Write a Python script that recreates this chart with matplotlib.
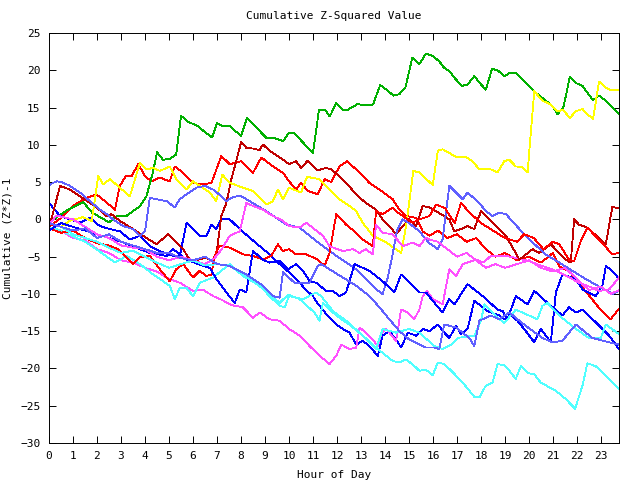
import matplotlib
matplotlib.use("Agg")
import matplotlib.pyplot as plt

# cumulative (z*z)-1 per series as (hour, value) points
green_h = [0, 0.4, 0.8, 1.43, 1.8, 2.5, 2.8, 3.2, 3.8, 4.06, 4.33, 4.5, 4.75, 5.03, 5.3, 5.5, 5.8, 6.2, 6.5, 6.8,
           7.0, 7.25, 7.53, 8.0, 8.25, 8.64, 9.05, 9.33, 9.75, 10.0, 10.2, 11.0, 11.25, 11.5, 11.7, 11.97, 12.25,
           12.45, 12.87, 13.07, 13.5, 13.8, 14.1, 14.35, 14.6, 14.85, 15.14, 15.43, 15.71, 15.99, 16.26, 16.47,
           16.68, 16.89, 17.21, 17.44, 17.72, 18.0, 18.2, 18.46, 18.69, 18.97, 19.18, 19.43, 19.73, 20.0, 20.2,
           20.63, 20.98, 21.19, 21.44, 21.7, 21.95, 22.23, 22.43, 22.67, 22.92, 23.2, 23.47, 23.75]
green_v = [-0.5, 0.5, 1.3, 2.3, 0.9, -0.4, 0.4, 0.4, 1.8, 3.1, 6.3, 9.0, 8.0, 8.1, 8.7, 13.9, 13.1, 12.5, 11.7, 11.0,
           12.9, 12.5, 12.5, 11.2, 13.6, 12.3, 10.95, 10.95, 10.5, 11.6, 11.6, 8.9, 14.7, 14.7, 13.8, 15.6, 14.7,
           14.7, 15.5, 15.3, 15.4, 18.0, 17.3, 16.6, 16.8, 17.7, 21.7, 20.8, 22.25, 21.9, 21.2, 20.3,
           19.9, 19.0, 17.9, 18.1, 19.2, 18.1, 17.4, 20.2, 20.0, 19.2, 19.6, 19.7, 18.8, 17.9, 17.2,
           16.1, 15.2, 14.1, 15.1, 19.1, 18.3, 17.9, 17.0, 16.0, 16.6, 15.9, 15.0, 14.1]

yellow_h = [0, 0.5, 0.87, 1.4, 1.78, 2.05, 2.26, 2.54, 2.95, 3.37, 3.79, 4.06, 4.34, 4.62, 5.03, 5.3, 5.73, 6.0,
            6.28, 6.7, 6.97, 7.22, 7.53, 8.08, 8.5, 9.05, 9.33, 9.54, 9.75, 10.0, 10.5, 10.75, 11.27, 11.69, 12.1,
            12.52, 12.8, 13.07, 13.49, 14.05, 14.67, 14.88, 15.18, 15.43, 15.99, 16.2, 16.4, 16.68, 16.96, 17.38,
            17.65, 17.93, 18.34, 18.69, 18.97, 19.18, 19.45, 19.73, 19.94, 20.22, 20.56, 20.91, 21.19, 21.42,
            21.7, 21.95, 22.23, 22.43, 22.67, 22.92, 23.2, 23.41, 23.75]
yellow_v = [-0.5, -1.0, -0.2, 0.3, -0.2, 5.8, 4.7, 5.4, 4.25, 3.1, 7.6, 6.7, 6.9, 6.5, 7.1, 5.4, 4.0, 5.1,
            4.5, 3.6, 2.45, 6.0, 4.9, 4.25, 3.8, 2.0, 2.45, 4.0, 2.7, 4.25, 3.6, 5.7, 5.4, 4.0, 2.7,
            1.8, 1.1, -0.45, -2.2, -3.1, -4.5, -0.9, 6.5, 6.3, 4.6, 9.2, 9.4, 8.9, 8.35, 8.35,
            7.8, 6.7, 6.8, 6.3, 7.8, 8.0, 7.1, 7.0, 6.3, 17.2, 15.9, 15.4, 14.5, 14.7,
            13.6, 14.5, 14.8, 14.1, 13.5, 18.5, 17.65, 17.3, 17.3]

darkred_h = [0, 0.46, 0.87, 1.29, 1.7, 1.98, 2.4, 2.6, 2.95, 3.5, 3.92, 4.48, 4.96, 5.17, 5.59, 5.8, 6.0, 6.56,
             6.77, 6.97, 7.18, 7.39, 7.6, 7.74, 8.01, 8.22, 8.5, 8.78, 8.91, 9.19, 9.75, 10.0, 10.3, 10.5, 10.79,
             11.0, 11.2, 11.55, 11.76, 12.1, 12.38, 12.8, 13.2, 13.63, 13.9, 14.18, 14.46, 14.74, 15.0, 15.3,
             15.57, 15.85, 16.13, 16.68, 16.89, 17.17, 17.44, 17.72, 18.0, 18.48, 19.04, 19.6, 20.15, 20.42,
             20.91, 21.53, 21.74, 21.88, 22.08, 22.43, 23.2, 23.47, 23.75]
darkred_v = [-1.2, 4.5, 4.0, 3.1, 2.2, 1.6, 0.45, 0.7, -0.2, -1.3, -2.2, -3.35, -2.0, -2.7, -4.0, -5.1, -5.6, -5.1,
             -5.6, -4.9, 0.45, 2.2, 5.4, 7.1, 10.4, 9.6, 9.5, 9.3, 10.05, 9.2, 8.0, 7.4, 7.8, 6.9, 7.9,
             7.1, 6.6, 6.9, 6.7, 5.8, 4.9, 3.35, 2.2, 1.3, 0.0, -0.9, -2.0, -0.9, 0.0, -0.9,
             1.8, 1.6, 1.1, 0.0, -1.6, -1.3, -0.9, -1.3, 1.1, -0.45, -2.2, -5.4, -4.0, -4.5,
             -3.35, -5.4, -5.8, 0.0, -0.7, -1.1, -3.35, 1.65, 1.5]

red1_h = [0, 0.5, 1.0, 1.5, 1.98, 2.33, 2.75, 2.95, 3.2, 3.44, 3.72, 4.0, 4.27, 4.62, 5.03, 5.24, 5.59, 6.0, 6.42,
          6.77, 7.18, 7.53, 8.01, 8.5, 8.85, 9.33, 9.75, 10.0, 10.3, 10.5, 10.79, 11.2, 11.48, 11.76, 12.1, 12.41,
          12.8, 13.35, 13.77, 14.32, 14.6, 14.88, 15.3, 15.57, 15.85, 16.2, 16.6, 17.0, 17.4, 17.8, 18.2, 18.6,
          19.0, 19.5, 20.0, 20.5, 21.0, 21.26, 21.7, 22.1, 22.5, 22.9, 23.4, 23.75]
red1_v = [-1.0, 0.2, 1.8, 2.8, 3.35, 2.45, 1.3, 4.5, 5.8, 5.8, 7.4, 5.8, 5.1, 5.6, 5.1, 7.1, 6.25, 4.9, 4.7,
          4.9, 8.5, 7.4, 7.8, 6.25, 8.3, 7.1, 6.25, 5.1, 4.0, 4.9, 3.8, 3.35, 5.4, 5.0, 7.1, 7.8,
          6.7, 4.9, 4.0, 2.7, 1.3, 0.45, 0.2, -1.6, -2.2, -1.5, -2.5, -2.0, -3.0, -2.5, -4.0, -5.0,
          -4.5, -5.5, -5.0, -5.8, -4.5, -6.3, -7.0, -8.7, -10.2, -11.8, -13.4, -12.0]

red2_h = [0, 0.5, 1.0, 1.5, 2.0, 2.5, 2.88, 3.5, 3.79, 4.2, 4.62, 5.03, 5.3, 5.59, 6.0, 6.28, 6.56, 6.77, 6.9, 7.1,
          7.53, 8.08, 8.5, 8.91, 9.26, 9.54, 9.75, 10.0, 10.3, 10.72, 11.2, 11.48, 11.69, 11.97, 12.38, 12.8,
          13.07, 13.49, 13.63, 13.9, 14.32, 14.46, 14.74, 15.15, 15.43, 15.85, 16.13, 16.5, 16.9, 17.17, 17.5,
          18.0, 18.5, 19.0, 19.5, 19.8, 20.2, 20.6, 21.0, 21.26, 21.67, 21.88, 22.16, 22.43, 23.0, 23.47, 23.75]
red2_v = [-1.2, -1.8, -1.5, -2.5, -3.2, -3.5, -4.0, -6.0, -5.1, -4.9, -6.7, -8.3, -6.7, -6.0, -7.8, -6.9, -7.6,
          -7.4, -4.9, -3.5, -3.8, -4.7, -4.9, -5.4, -4.9, -3.35, -4.25, -4.0, -4.7, -4.7, -5.4, -6.25, -4.5, 0.7,
          -0.7, -1.8, -2.7, -3.6, 1.1, 0.7, 1.6, 1.1, 0.45, -0.45, 0.0, 0.45, 2.0, 1.5, -0.5, 2.2, 1.0,
          -0.5, -1.5, -2.5, -3.0, -2.0, -2.5, -4.0, -3.0, -3.35, -5.4, -5.6, -2.9, -1.1, -3.0, -4.7, -4.5]

blue1_h = [0, 0.46, 0.87, 1.29, 1.7, 2.12, 2.54, 2.95, 3.37, 3.79, 4.2, 4.62, 5.17, 5.45, 5.73, 6.0, 6.28, 6.56,
           6.77, 6.97, 7.18, 7.53, 7.95, 8.36, 8.78, 9.19, 9.61, 10.0, 10.44, 10.72, 11.0, 11.13, 11.55, 11.97,
           12.24, 12.52, 12.8, 13.07, 13.35, 13.7, 13.9, 14.18, 14.46, 14.67, 14.95, 15.3, 15.57, 15.85, 16.2,
           16.47, 16.68, 16.96, 17.17, 17.44, 17.72, 18.27, 18.76, 18.97, 19.25, 19.52, 19.87, 20.22, 20.49,
           20.91, 21.12, 21.39, 21.95, 22.23, 22.78, 23.06, 23.2, 23.47, 23.75]
blue1_v = [2.2, 0.45, 0.0, -0.45, 0.2, -0.9, -1.3, -1.6, -2.7, -2.2, -3.6, -4.25, -4.9, -4.9, -0.45, -1.3, -2.2,
           -2.2, -0.7, -1.3, 0.0, 0.0, -1.3, -2.45, -3.6, -4.7, -6.0, -7.1, -8.5, -9.5, -10.3, -11.0, -12.7,
           -14.1, -14.7, -15.2, -16.8, -16.3, -17.0, -18.3, -15.6, -15.0, -16.1, -17.2, -15.2, -15.6, -14.7,
           -15.0, -14.1, -15.2, -15.9, -14.3, -15.4, -14.7, -10.9, -12.3, -12.9, -13.4, -12.9, -13.6, -15.0,
           -16.5, -14.7, -16.5, -9.8, -7.4, -8.0, -9.4, -10.3, -8.9, -6.25, -6.9, -8.0]

blue2_h = [0, 0.5, 1.0, 1.5, 2.0, 2.5, 3.0, 3.4, 3.79, 4.2, 4.9, 5.17, 5.73, 6.42, 6.7, 6.97, 7.39, 7.74, 7.95,
           8.22, 8.5, 8.91, 9.19, 9.61, 9.96, 10.3, 10.58, 10.86, 11.13, 11.55, 11.83, 12.1, 12.38, 12.73, 13.35,
           13.9, 14.39, 14.67, 15.15, 15.43, 15.71, 16.06, 16.4, 16.68, 16.89, 17.44, 18.07, 18.69, 18.9, 19.1,
           19.45, 19.94, 20.22, 20.84, 21.39, 21.67, 21.95, 22.23, 22.78, 23.34, 23.75]
blue2_v = [-1.5, -0.5, -1.0, -1.5, -2.0, -2.5, -3.0, -3.5, -4.0, -4.5, -4.9, -4.0, -5.4, -6.25, -6.5, -8.0,
           -9.8, -11.2, -9.4, -9.8, -4.25, -5.4, -5.8, -5.6, -6.7, -6.0, -6.9, -8.3, -8.5, -9.6, -9.6, -10.3,
           -9.8, -6.0, -6.9, -8.3, -9.8, -7.4, -8.9, -9.8, -9.8, -11.2, -12.5, -10.7, -11.4, -8.7, -10.3,
           -12.1, -12.3, -13.4, -10.3, -11.4, -9.6, -11.4, -12.9, -11.8, -12.5, -12.1, -13.8, -15.6, -17.4]

slate1_h = [0, 0.18, 0.32, 0.53, 0.87, 1.29, 1.7, 2.12, 2.4, 2.67, 3.09, 3.5, 3.79, 4.0, 4.2, 4.48, 4.9, 5.24,
            5.45, 5.73, 6.14, 6.49, 6.84, 7.18, 7.39, 7.6, 7.95, 8.36, 9.05, 9.89, 10.44, 11.13, 11.97, 12.8,
            13.63, 13.9, 14.1, 14.3, 14.5, 14.74, 15.0, 15.43, 15.85, 16.2, 16.4, 16.68, 17.24, 17.44, 17.93,
            18.2, 18.48, 18.76, 19.04, 19.6, 20.15, 20.7, 21.26, 21.81, 22.36, 22.8, 23.2, 23.5, 23.75]
slate1_v = [4.6, 4.9, 5.1, 5.0, 4.5, 3.6, 2.45, 1.3, 0.7, 0.0, -0.9, -1.3, -2.2, -1.6, 2.9, 2.7, 2.45, 1.6,
            2.7, 3.35, 4.25, 4.5, 4.0, 3.1, 2.45, 2.9, 3.2, 2.45, 1.1, -0.7, -1.1, -2.9, -4.9, -6.7,
            -9.4, -10.0, -8.0, -5.0, -1.5, 0.0, -0.5, -1.6, -3.2, -4.0, -2.7, 4.5, 2.7, 3.6, 2.2,
            1.1, 0.45, 0.9, 0.7, -1.3, -3.1, -4.7, -5.8, -6.9, -8.0, -8.8, -9.5, -10.0, -9.6]

slate2_h = [0, 0.5, 1.0, 1.5, 2.0, 2.5, 3.0, 3.5, 4.0, 4.5, 5.0, 5.5, 6.0, 6.5, 7.0, 7.53, 8.22, 8.91, 9.33, 9.61,
            9.75, 10.23, 10.86, 11.2, 11.34, 12.24, 12.8, 13.35, 13.77, 14.18, 14.6, 15.0, 15.43, 15.71, 16.06,
            16.26, 16.47, 16.96, 17.51, 17.72, 17.93, 18.41, 18.76, 19.18, 19.87, 20.56, 20.98, 21.39, 21.95,
            22.64, 23.34, 23.75]
slate2_v = [-0.5, -1.0, -1.5, -1.2, -2.5, -2.0, -3.0, -3.5, -4.0, -4.5, -4.5, -5.2, -5.5, -5.0, -6.0, -6.25,
            -7.4, -8.9, -10.3, -10.5, -7.1, -8.5, -8.5, -6.25, -6.0, -7.8, -8.9, -10.3, -11.8, -13.4, -15.0,
            -16.1, -16.8, -17.2, -17.2, -17.4, -14.1, -14.5, -15.9, -17.0, -13.6, -12.9, -13.4, -12.5, -14.3,
            -15.9, -16.5, -16.3, -14.1, -15.9, -16.5, -16.8]

magenta1_h = [0, 0.5, 1.0, 1.5, 2.0, 2.5, 3.0, 3.5, 4.0, 4.5, 5.0, 5.45, 6.0, 6.4, 6.84, 7.2, 7.6, 8.08, 8.5,
              8.78, 9.19, 9.61, 10.0, 10.44, 10.86, 11.27, 11.69, 11.97, 12.18, 12.52, 12.8, 12.94, 13.2, 13.49,
              13.7, 13.84, 14.05, 14.46, 14.67, 14.95, 15.22, 15.43, 15.57, 15.75, 15.99, 16.4, 16.68, 16.96,
              17.24, 17.79, 18.1, 18.41, 19.04, 19.5, 20.0, 20.5, 20.98, 21.5, 22.09, 22.5, 22.92, 23.34, 23.75]
magenta1_v = [-1.0, -1.5, -2.5, -2.8, -4.0, -4.5, -5.5, -5.8, -6.5, -7.0, -8.0, -8.5, -9.6, -9.4, -10.3, -10.8,
              -11.5, -11.8, -13.2, -12.5, -13.4, -13.6, -14.7, -15.6, -17.0, -18.3, -19.4, -18.3, -16.8, -17.4,
              -17.2, -14.5, -15.2, -16.1, -17.0, -15.4, -14.7, -16.3, -12.1, -12.5, -13.4, -12.1, -10.3, -9.6,
              -10.7, -11.4, -6.7, -7.6, -6.0, -5.4, -5.8, -4.9, -4.9, -5.2, -5.6, -6.2, -6.7, -7.5, -8.5,
              -9.0, -9.6, -9.4, -7.8]

magenta2_h = [0, 0.3, 0.6, 1.0, 1.5, 2.0, 2.5, 3.0, 3.5, 4.0, 4.5, 5.0, 5.5, 6.0, 6.5, 6.9, 7.2, 7.53, 7.95,
              8.22, 8.5, 8.91, 9.33, 9.75, 10.0, 10.44, 10.72, 11.41, 11.69, 12.24, 12.66, 12.94, 13.2, 13.49,
              13.63, 13.9, 14.32, 14.74, 15.15, 15.43, 15.71, 15.85, 16.2, 16.6, 17.0, 17.4, 17.8, 18.2, 18.6,
              19.0, 19.5, 20.0, 20.5, 21.0, 21.5, 22.0, 22.5, 23.0, 23.4, 23.75]
magenta2_v = [-0.8, 0.5, 0.3, 0.0, -1.0, -2.0, -2.5, -3.5, -3.8, -4.0, -5.0, -5.5, -5.0, -5.5, -6.0, -5.2,
              -4.0, -2.2, -1.6, 2.2, 1.8, 1.3, 0.45, -0.2, -0.9, -1.1, -0.45, -2.2, -3.6, -4.25, -4.0, -4.5,
              -4.0, -4.7, -0.7, -1.8, -2.0, -3.6, -3.1, -3.6, -2.45, -2.7, -3.0, -4.0, -5.0, -4.5, -5.5, -6.5,
              -6.0, -6.5, -6.0, -5.5, -6.5, -7.0, -6.5, -8.0, -9.5, -9.0, -10.0, -9.5]

cyan1_h = [0, 0.5, 1.0, 1.5, 1.98, 2.4, 2.75, 3.23, 3.79, 4.34, 5.03, 5.24, 5.45, 5.73, 6.0, 6.28, 6.84, 7.25,
           7.53, 8.08, 8.78, 9.19, 9.61, 9.82, 10.0, 10.58, 11.13, 11.34, 11.83, 12.38, 12.94, 13.63, 14.32,
           14.6, 14.88, 15.2, 15.43, 15.71, 15.99, 16.2, 16.47, 16.82, 17.24, 17.72, 17.93, 18.2, 18.48, 18.69,
           18.97, 19.18, 19.45, 19.66, 19.94, 20.22, 20.49, 21.12, 21.53, 21.92, 22.23, 22.43, 22.78, 23.34,
           23.75]
cyan1_v = [-1.0, -1.5, -2.3, -3.0, -4.0, -5.0, -5.8, -4.9, -6.0, -7.4, -8.9, -10.7, -9.2, -9.2, -10.3, -8.5,
           -7.8, -6.7, -6.0, -7.6, -8.9, -10.3, -11.6, -11.8, -10.3, -10.7, -9.8, -10.3, -12.3, -13.6, -15.2,
           -17.2, -19.0, -19.2, -18.8, -19.6, -20.3, -20.2, -20.9, -19.2, -19.4, -20.5, -21.9, -23.8, -23.9,
           -22.3, -21.9, -19.4, -19.6, -20.3, -21.4, -19.7, -20.6, -20.8, -21.9, -23.0, -24.1, -25.4, -22.3,
           -19.3, -19.7, -21.4, -22.7]

cyan2_h = [0, 0.5, 1.0, 1.5, 2.0, 2.5, 3.0, 3.5, 4.0, 4.5, 5.0, 5.5, 6.0, 6.5, 7.0, 7.53, 8.36, 9.0, 9.61, 9.96,
           10.44, 11.06, 11.27, 11.41, 11.97, 12.59, 13.07, 13.63, 13.9, 14.46, 15.0, 15.43, 16.06, 16.4, 16.75,
           17.03, 17.72, 18.0, 18.14, 18.69, 18.97, 19.45, 20.0, 20.35, 20.56, 20.77, 21.26, 21.95, 22.5, 22.99,
           23.2, 23.75]
cyan2_v = [-0.5, -1.0, -2.0, -2.5, -3.0, -3.8, -4.5, -4.2, -5.0, -5.8, -6.5, -6.0, -5.5, -6.2, -6.0, -6.25,
           -8.0, -9.5, -11.2, -10.1, -10.7, -12.5, -13.6, -11.2, -12.9, -14.3, -15.6, -17.4, -14.7, -15.2,
           -14.7, -15.2, -17.0, -17.4, -16.8, -15.9, -15.6, -13.6, -11.4, -13.2, -13.9, -12.1, -12.9, -13.4,
           -11.6, -11.2, -12.9, -14.7, -15.9, -15.9, -14.1, -15.4]

series = [
    (red1_h, red1_v, "#ff0000"),
    (green_h, green_v, "#00b000"),
    (blue1_h, blue1_v, "#0000ff"),
    (magenta1_h, magenta1_v, "#ff50ff"),
    (cyan1_h, cyan1_v, "#50ffff"),
    (darkred_h, darkred_v, "#c00000"),
    (yellow_h, yellow_v, "#ffff00"),
    (slate1_h, slate1_v, "#6060ff"),
    (red2_h, red2_v, "#ff0000"),
    (blue2_h, blue2_v, "#0000ff"),
    (magenta2_h, magenta2_v, "#ff50ff"),
    (cyan2_h, cyan2_v, "#50ffff"),
    (slate2_h, slate2_v, "#6060ff"),
]

plt.rcParams["font.family"] = ["DejaVu Sans Mono"]
fig = plt.figure(figsize=(6.4, 4.8), dpi=100)
ax = fig.add_axes([49 / 640, 1 - 443 / 480, (619 - 49) / 640, (443 - 33) / 480])

for h, v, c in series:
    ax.plot(h, v, color=c, lw=0.6, antialiased=False)

ax.set_xlim(0, 23.75)
ax.set_ylim(-30, 25)
ax.set_xticks(range(0, 24))
ax.set_yticks(range(-30, 26, 5))
ax.tick_params(direction="in", length=5, width=0.7, top=True, right=True, labelsize=8, pad=6)
for s in ax.spines.values():
    s.set_linewidth(0.7)
ax.set_title("Cumulative Z-Squared Value", fontsize=8, pad=10)
ax.set_xlabel("Hour of Day", fontsize=8, labelpad=6)
ax.set_ylabel("Cumulative (Z*Z)-1", fontsize=8, labelpad=6)

fig.savefig("out.png", dpi=100)
